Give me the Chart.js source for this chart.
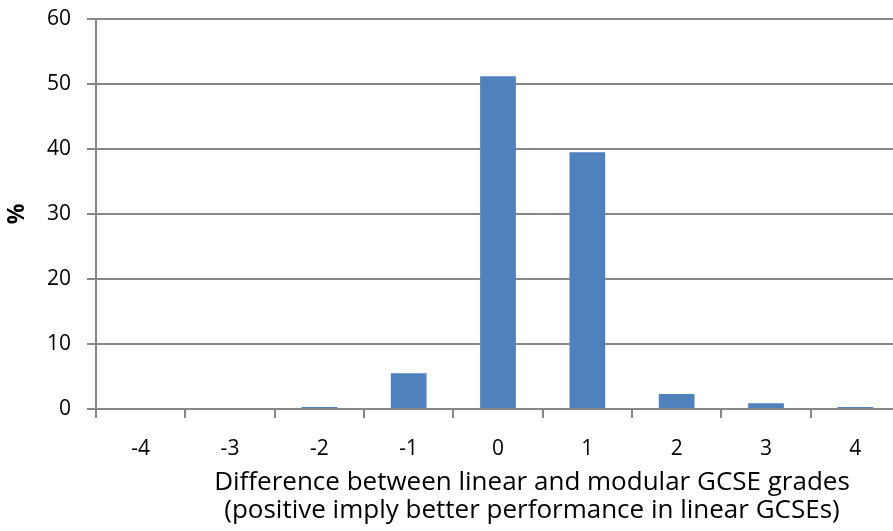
<!DOCTYPE html>
<html>
<head>
<meta charset="utf-8">
<script src="https://cdn.jsdelivr.net/npm/chart.js@4"></script>
<style>
  html, body { margin: 0; padding: 0; background: #fff; overflow: hidden; }
  #wrap { position: relative; width: 900px; height: 531px; }
</style>
</head>
<body>
<div id="wrap"><canvas id="c"></canvas></div>
<script>
// Grade difference categories (linear minus modular)
const categories = ['-4', '-3', '-2', '-1', '0', '1', '2', '3', '4'];
// Share of pupils in each category, %
const percentages = [0, 0, 0.3, 5.5, 51.2, 39.5, 2.3, 0.9, 0.3];
const yMin = 0, yMax = 60, yStep = 10;

const axisGrey = '#878787';
const fontFamily = '"Open Sans", Lato, sans-serif';

// The x-axis title sits a little right of the plot centre: widen the
// x scale box (after ticks are placed) so the title centres further right.
const shiftXTitle = {
  id: 'shiftXTitle',
  afterLayout(chart) {
    chart.scales.x.right += 68;
  }
};

new Chart(document.getElementById('c'), {
  type: 'bar',
  data: {
    labels: categories,
    datasets: [{
      data: percentages,
      backgroundColor: '#4F81BD',
      borderWidth: 0,
      categoryPercentage: 1,
      barPercentage: 0.4
    }]
  },
  plugins: [shiftXTitle],
  options: {
    responsive: true,
    maintainAspectRatio: false,
    animation: false,
    layout: { padding: { top: 19, right: 0, bottom: 0, left: 0 } },
    plugins: { legend: { display: false }, tooltip: { enabled: false } },
    scales: {
      x: {
        offset: true,
        grid: { display: true, drawOnChartArea: false, drawTicks: true, tickLength: 9, color: axisGrey, lineWidth: 2 },
        border: { display: true, color: axisGrey, width: 2 },
        ticks: { color: '#000', font: { family: fontFamily, size: 21 }, padding: 18, maxRotation: 0 },
        title: {
          display: true,
          text: ['Difference between linear and modular GCSE grades', '(positive imply better performance in linear GCSEs)'],
          color: '#000',
          font: { family: fontFamily, size: 26, lineHeight: 1.08 },
          padding: { top: 2, bottom: 6 }
        },
        afterFit(scale) {
          scale.height = 122;
          scale.paddingLeft = 0;
          scale.paddingRight = 0;
        }
      },
      y: {
        min: yMin, max: yMax,
        ticks: { stepSize: yStep, color: '#000', font: { family: fontFamily, size: 21 }, padding: 16 },
        grid: { color: axisGrey, lineWidth: 2, tickLength: 9, drawTicks: true },
        border: { display: true, color: axisGrey, width: 2 },
        title: {
          display: true,
          text: '%',
          color: '#000',
          font: { family: fontFamily, size: 23, weight: 'bold' },
          padding: { top: 4, bottom: 0 }
        },
        afterFit(scale) {
          scale.width = 96;
          scale.paddingTop = 0;
          scale.paddingBottom = 0;
        }
      }
    }
  }
});
</script>
</body>
</html>
